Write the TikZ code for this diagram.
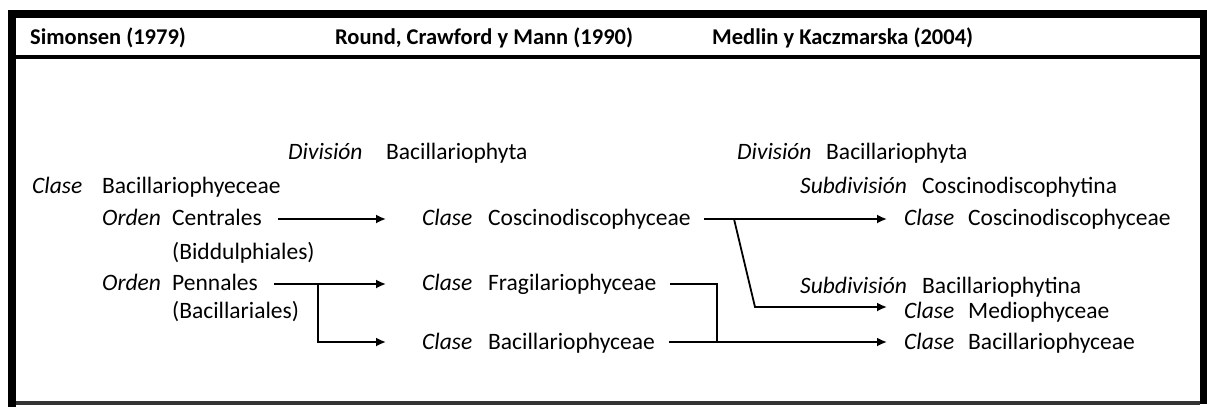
\documentclass[tikz,border=0pt]{standalone}
\usepackage{fontspec}
\setmainfont{Carlito}
\usetikzlibrary{arrows.meta,calc}
\tikzset{
  txt/.style={anchor=base west,inner sep=0pt,font=\fontsize{23.5}{28}\selectfont},
  itx/.style={txt,font=\fontsize{23.5}{28}\selectfont\itshape},
  hdr/.style={anchor=base west,inner sep=0pt,font=\fontsize{22.5}{27}\selectfont\bfseries},
  arr/.style={line width=1.8pt,-{Latex[length=10pt,width=9pt]}},
  ln/.style={line width=1.8pt},
}
\begin{document}
\begin{tikzpicture}[x=1pt,y=-1pt]
\useasboundingbox (0,0) rectangle (1207,407);
% frame
\fill[black] (8,10) rectangle (1207,18);
\fill[black] (8,10) rectangle (16,407);
\fill[black] (1200,10) rectangle (1207,404);
\fill[black] (16,55) rectangle (1200,59);
\fill[black!80] (16,401) rectangle (1200,405);
% header
\node[hdr] (h1) at (30,44) {Simonsen (1979)};
\node[hdr] (h2) at (335,44) {Round, Crawford y Mann (1990)};
\node[hdr] (h3) at (712,44) {Medlin y Kaczmarska (2004)};
% Simonsen
\node[itx] (sk) at (32,193) {Clase};
\node[txt] (sn) at (102,193) {Bacillariophyeceae};
\node[itx] (o1k) at (102,225) {Orden};
\node[txt] (o1) at (172,225) {Centrales};
\node[txt] (o1b) at (172,259) {(Biddulphiales)};
\node[itx] (o2k) at (102,290) {Orden};
\node[txt] (o2) at (172,290) {Pennales};
\node[txt] (o2b) at (172,318) {(Bacillariales)};
% Round
\node[itx] (rdk) at (288,159) {División};
\node[txt] (rd) at (386,159) {Bacillariophyta};
\node[itx] (r1k) at (422,225) {Clase};
\node[txt] (r1) at (488,225) {Coscinodiscophyceae};
\node[itx] (r2k) at (422,290) {Clase};
\node[txt] (r2) at (488,290) {Fragilariophyceae};
\node[itx] (r3k) at (422,349) {Clase};
\node[txt] (r3) at (488,349) {Bacillariophyceae};
% Medlin
\node[itx] (mdk) at (737,159) {División};
\node[txt] (md) at (826,159) {Bacillariophyta};
\node[itx] (ms1k) at (800,193) {Subdivisión};
\node[txt] (ms1) at (922,193) {Coscinodiscophytina};
\node[itx] (m1k) at (904,225) {Clase};
\node[txt] (m1) at (968,225) {Coscinodiscophyceae};
\node[itx] (ms2k) at (800,293) {Subdivisión};
\node[txt] (ms2) at (922,293) {Bacillariophytina};
\node[itx] (m2k) at (904,318) {Clase};
\node[txt] (m2) at (968,318) {Mediophyceae};
\node[itx] (m3k) at (904,349) {Clase};
\node[txt] (m3) at (968,349) {Bacillariophyceae};
% connectors
\coordinate (a1s) at ([xshift=16pt]o1.east |- 0,219);
\coordinate (a1e) at ([xshift=-36pt]r1k.west |- 0,219);
\draw[arr] (a1s) -- (a1e);
\coordinate (a2s) at ([xshift=16pt]o2.east |- 0,284);
\coordinate (a2e) at ([xshift=-36pt]r2k.west |- 0,284);
\coordinate (a2b) at (318,284);
\coordinate (a3e) at ([xshift=-36pt]r3k.west |- 0,342);
\draw[arr] (a2s) -- (a2e);
\draw[arr] (a2b) |- (a3e);
\coordinate (b1s) at ([xshift=13pt]r1.east |- 0,219);
\coordinate (b1e) at ([xshift=-17pt]m1k.west |- 0,219);
\coordinate (b1b) at (734,219);
\coordinate (b2k) at (755,307);
\coordinate (b2e) at ([xshift=-17pt]m2k.west |- 0,307);
\draw[arr] (b1s) -- (b1e);
\draw[arr] (b1b) -- (b2k) -- (b2e);
\coordinate (c1s) at ([xshift=14pt]r2.east |- 0,284);
\coordinate (c1k) at (717,284);
\coordinate (c2s) at ([xshift=14pt]r3.east |- 0,342);
\coordinate (c2e) at ([xshift=-17pt]m3k.west |- 0,342);
\draw[ln] (c1s) -- (c1k) -- (c1k |- c2s);
\draw[arr] (c2s) -- (c2e);
\end{tikzpicture}
\end{document}
